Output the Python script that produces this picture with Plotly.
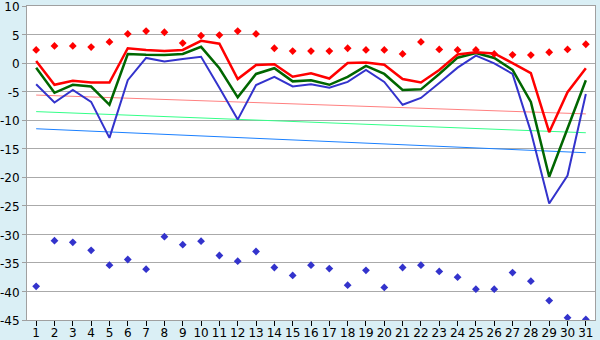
import plotly.graph_objects as go

days = list(range(1, 32))

max_pts = [2.3, 3.0, 3.0, 2.8, 3.7, 5.1, 5.6, 5.4, 3.5, 4.8, 4.9, 5.6, 5.1, 2.6, 2.1, 2.1,
           2.1, 2.6, 2.3, 2.3, 1.6, 3.7, 2.4, 2.3, 2.3, 1.6, 1.45, 1.4, 1.9, 2.4, 3.3]
red_line = [0.35, -3.8, -3.1, -3.4, -3.4, 2.6, 2.3, 2.1, 2.3, 3.9, 3.4, -2.8, -0.35, -0.2,
            -2.4, -1.8, -2.7, 0.0, 0.1, -0.3, -2.8, -3.4, -1.2, 1.5, 1.9, 1.7, 0.0, -1.75,
            -12.1, -5.1, -0.9]
green_line = [-0.8, -5.2, -3.8, -4.1, -7.3, 1.6, 1.45, 1.4, 1.6, 2.85, -0.9, -6.0, -1.9,
              -0.9, -3.2, -3.0, -3.8, -2.4, -0.5, -1.9, -4.7, -4.6, -1.9, 0.95, 1.75, 0.9,
              -1.2, -6.8, -19.9, -11.4, -3.0]
blue_line = [-3.7, -6.9, -4.7, -6.8, -13.1, -3.0, 0.9, 0.3, 0.7, 1.1, -4.3, -9.9, -3.85,
             -2.4, -4.1, -3.7, -4.3, -3.3, -1.2, -3.3, -7.3, -6.1, -3.5, -0.8, 1.3, -0.05,
             -1.9, -12.0, -24.6, -19.7, -5.4]
min_pts = [-39.1, -31.1, -31.4, -32.8, -35.4, -34.4, -36.1, -30.4, -31.8, -31.2, -33.7,
           -34.7, -33.0, -35.8, -37.2, -35.4, -36.0, -38.9, -36.3, -39.3, -35.8, -35.4,
           -36.5, -37.5, -39.6, -39.6, -36.7, -38.2, -41.6, -44.6, -44.9]

y_ticks = [10, 5, 0, -5, -10, -15, -20, -25, -30, -35, -40, -45]
y_ticktext = ["10", "5", "0", "-5", "-10", "-15", "-20", "-25", "-30", "-35", "-40", "-45"]

trend_x = [1, 31]
trend_pink = [-5.6, -8.9]
trend_green = [-8.5, -12.2]
trend_blue = [-11.5, -15.7]

fig = go.Figure()
fig.add_trace(go.Scatter(x=trend_x, y=trend_pink, mode="lines",
                         line=dict(color="#FF8080", width=1)))
fig.add_trace(go.Scatter(x=trend_x, y=trend_green, mode="lines",
                         line=dict(color="#33FF88", width=1)))
fig.add_trace(go.Scatter(x=trend_x, y=trend_blue, mode="lines",
                         line=dict(color="#1A80FF", width=1)))
fig.add_trace(go.Scatter(x=days, y=blue_line, mode="lines",
                         line=dict(color="#3333CC", width=2)))
fig.add_trace(go.Scatter(x=days, y=green_line, mode="lines",
                         line=dict(color="#006600", width=2.5)))
fig.add_trace(go.Scatter(x=days, y=red_line, mode="lines",
                         line=dict(color="#FF0000", width=2.5)))
fig.add_trace(go.Scatter(x=days, y=max_pts, mode="markers",
                         marker=dict(symbol="diamond", size=6, color="#FF0000")))
fig.add_trace(go.Scatter(x=days, y=min_pts, mode="markers",
                         marker=dict(symbol="diamond", size=6, color="#3333CC")))

fig.update_layout(
    width=600, height=340,
    margin=dict(l=27, r=5, t=6, b=20, autoexpand=False),
    paper_bgcolor="#DAEFF5",
    plot_bgcolor="#FFFFFF",
    showlegend=False,
    font=dict(family="DejaVu Sans", size=12, color="#000000"),
)
fig.update_xaxes(range=[0.5, 31.5], tickmode="array", tickvals=days,
                 ticktext=[str(d) for d in days],
                 ticks="outside", ticklen=5, tickcolor="#000000",
                 showgrid=False, zeroline=False, automargin=False,
                 ticklabeloverflow="allow", ticklabelstandoff=-3,
                 showline=True, linecolor="#A0A0A0", mirror=True,
                 tickfont=dict(size=12))
fig.update_yaxes(range=[-45, 10], tickmode="array", tickvals=y_ticks,
                 ticktext=y_ticktext,
                 ticks="outside", ticklen=4, tickcolor="#A0A0A0",
                 showgrid=True, gridcolor="#AAAAAA", gridwidth=1,
                 zeroline=False, automargin=False,
                 ticklabeloverflow="allow", ticklabelshift=1,
                 showline=True, linecolor="#A0A0A0", mirror=True,
                 tickfont=dict(size=12))

fig.write_html("out.html", config={"displayModeBar": False},
               post_script="document.body.style.margin='0';document.body.style.background='#DAEFF5';")
